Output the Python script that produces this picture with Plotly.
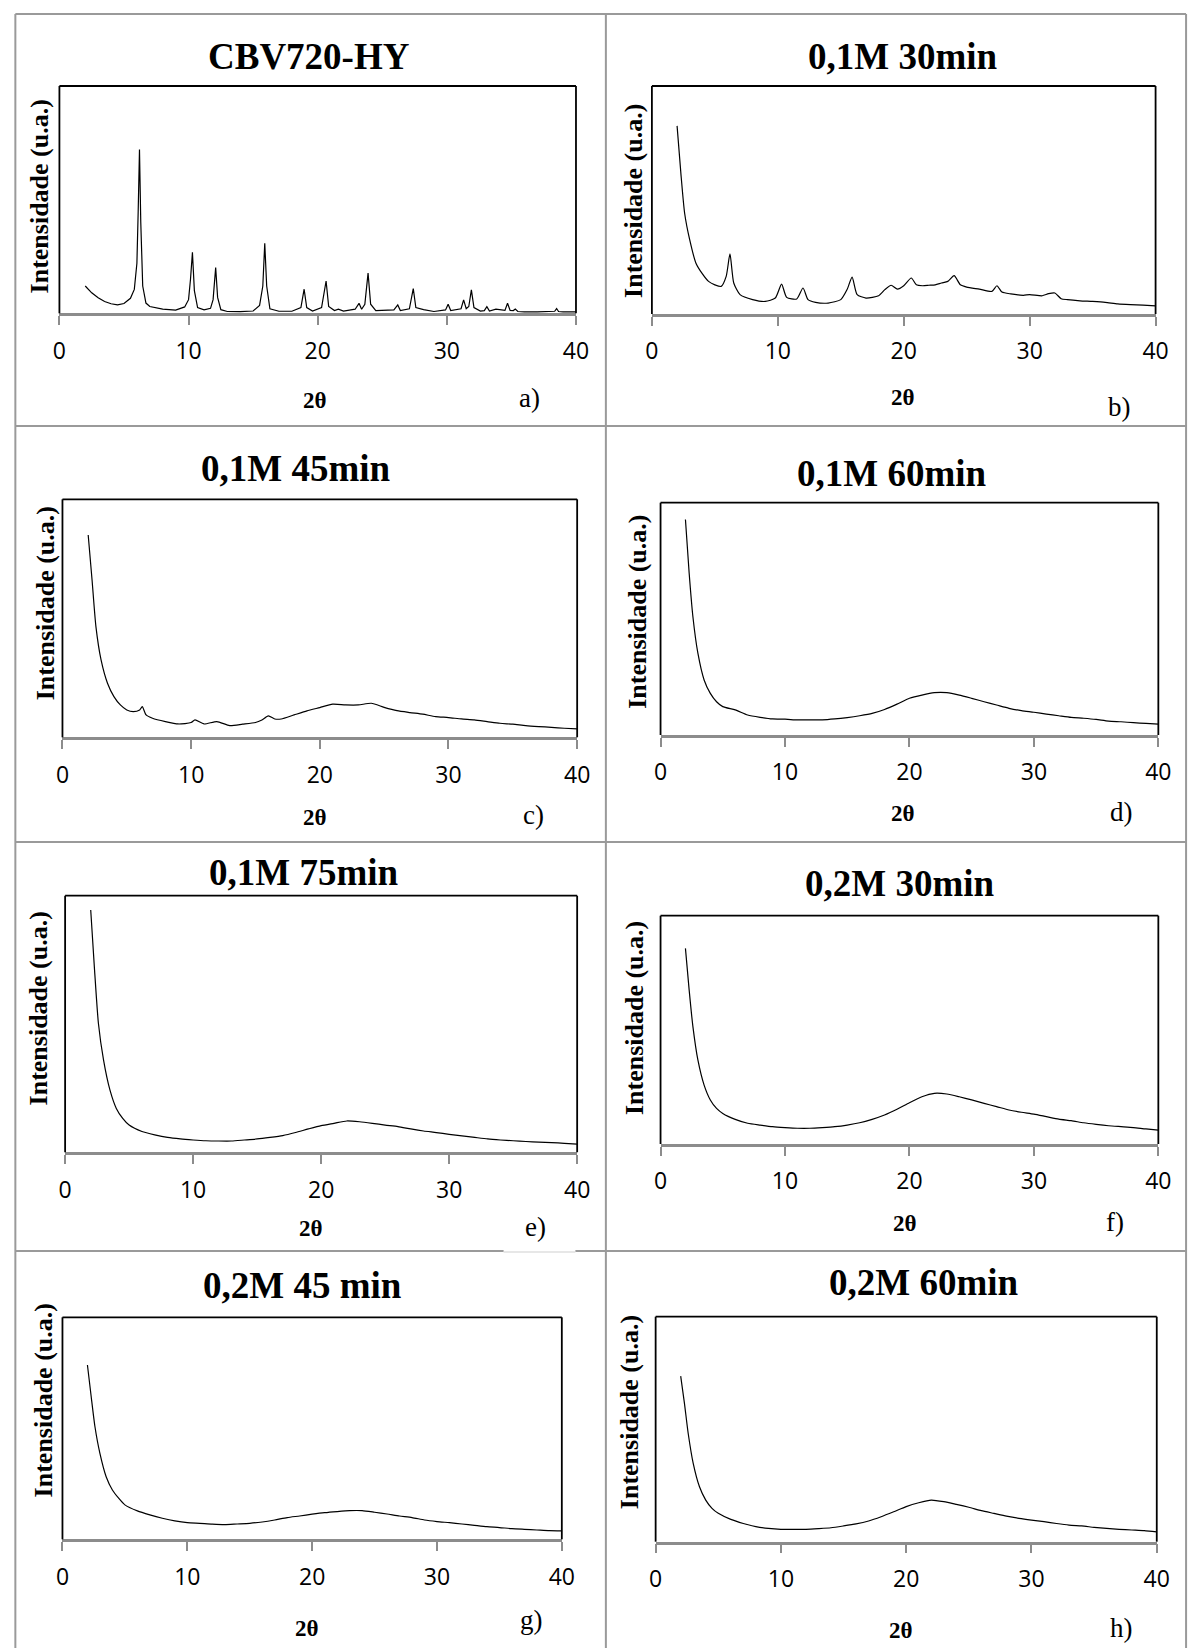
import plotly.graph_objects as go

W, H = 1203, 1648

# ---------------- data (2theta in degrees, intensity in arbitrary units, 0-100) -------------
x_a = [2.0, 2.5, 3.0, 3.5, 4.0, 4.5, 5.0, 5.5, 5.8, 6.0, 6.1, 6.2, 6.3, 6.45, 6.7, 7.0, 8.0, 9.0,
       9.7, 10.0, 10.15, 10.3, 10.45, 10.7, 11.2, 11.7, 11.9, 12.1, 12.25, 12.5, 13.0, 14.0, 15.0,
       15.5, 15.75, 15.9, 16.05, 16.3, 17.0, 18.0, 18.7, 18.95, 19.15, 19.6, 20.3, 20.65, 20.85,
       21.3, 21.6, 22.0, 22.9, 23.2, 23.4, 23.65, 23.9, 24.1, 24.5, 25.3, 25.9, 26.2, 26.4, 27.1,
       27.4, 27.6, 28.2, 29.0, 29.9, 30.1, 30.3, 31.1, 31.3, 31.5, 31.7, 31.9, 32.1, 32.6, 32.9,
       33.1, 33.3, 33.8, 34.5, 34.7, 34.9, 35.15, 35.3, 35.5, 36.0, 37.0, 38.0, 38.35, 38.5, 38.65,
       39.0, 40.0]
y_a = [12.0, 9.0, 6.8, 5.2, 4.2, 3.7, 4.3, 6.6, 10.5, 22.0, 45.0, 72.1, 40.0, 12.0, 4.5, 3.0, 1.8, 1.4,
       2.8, 6.0, 15.0, 26.8, 10.0, 2.5, 1.5, 2.2, 6.0, 20.1, 7.0, 1.6, 0.8, 0.7, 1.0,
       3.5, 12.0, 30.8, 12.0, 2.0, 0.9, 0.9, 2.5, 10.6, 2.5, 1.0, 2.5, 14.2, 3.0,
       1.2, 1.8, 1.0, 1.8, 4.4, 1.8, 4.0, 17.7, 4.0, 1.2, 1.3, 1.5, 3.7, 1.2, 2.0,
       10.9, 2.5, 1.6, 0.8, 1.5, 4.0, 1.2, 2.0, 5.9, 2.0, 3.0, 10.3, 2.5, 1.0, 1.2,
       2.9, 1.0, 1.8, 1.3, 4.4, 1.3, 1.2, 1.9, 0.8, 0.6, 0.6, 0.7, 0.9, 2.1, 0.8,
       0.6, 0.6]

x_b = [2.0, 2.3, 2.6, 3.0, 3.5, 4.0, 4.5, 5.0, 5.5, 5.9, 6.2, 6.5, 7.0, 8.0, 9.0, 9.8, 10.3, 10.7,
       11.5, 12.0, 12.4, 13.0, 14.0, 15.0, 15.5, 15.9, 16.3, 17.0, 18.0, 18.5, 19.0, 19.5, 20.0,
       20.6, 21.0, 21.5, 22.0, 22.5, 23.0, 23.5, 24.0, 24.5, 25.0, 26.0, 27.0, 27.4, 27.8, 28.5,
       29.5, 30.0, 31.0, 31.5, 32.0, 32.5, 33.0, 34.0, 35.0, 36.0, 37.0, 38.0, 39.0, 40.0]
y_b = [82.5, 61.8, 44.2, 32.6, 22.3, 17.7, 14.3, 12.8, 12.1, 16.5, 26.4, 13.6, 8.5, 6.3, 5.5, 7.0, 13.1, 7.3,
       6.6, 11.4, 6.3, 5.1, 4.8, 6.3, 10.7, 16.2, 8.5, 7.0, 8.0, 10.7, 12.6, 10.9, 12.4,
       15.8, 12.8, 12.4, 12.6, 12.8, 13.6, 14.3, 16.8, 12.8, 11.8, 10.9, 9.9, 12.4, 9.6, 8.8,
       8.2, 8.5, 8.0, 8.9, 9.2, 6.7, 6.3, 5.8, 5.5, 5.1, 4.4, 4.1, 3.9, 3.6]

x_c = [2.0, 2.3, 2.6, 3.0, 3.5, 4.0, 4.5, 5.0, 5.5, 6.0, 6.2, 6.5, 7.0, 8.0, 9.0, 10.0, 10.3, 11.0,
       12.0, 13.0, 14.0, 15.0, 15.5, 16.0, 16.5, 17.0, 18.0, 19.0, 20.0, 21.0, 22.0, 23.0, 24.0,
       25.0, 26.0, 27.0, 28.0, 29.0, 30.0, 31.0, 32.0, 33.0, 34.0, 35.0, 36.0, 37.0, 38.0, 39.0, 40.0]
y_c = [85.0, 66.1, 46.5, 32.5, 22.7, 17.1, 13.6, 11.5, 10.8, 11.5, 12.9, 9.4, 8.0, 6.6, 5.6, 6.2, 7.3, 5.6,
       6.6, 4.9, 5.5, 6.2, 7.3, 9.0, 7.7, 7.7, 9.4, 11.1, 12.5, 13.9, 13.6, 13.6, 14.3,
       12.6, 11.2, 10.4, 9.7, 8.7, 8.3, 7.7, 7.3, 6.6, 5.9, 5.5, 4.9, 4.5, 4.2, 3.8, 3.5]

x_d = [2.0, 2.3, 2.6, 3.0, 3.5, 4.0, 4.5, 5.0, 6.0, 7.0, 8.0, 9.0, 10.0, 11.0, 12.0, 13.0, 14.0,
       15.0, 16.0, 17.0, 18.0, 19.0, 20.0, 21.0, 22.0, 23.0, 24.0, 25.0, 26.0, 27.0, 28.0, 29.0,
       30.0, 31.0, 32.0, 33.0, 34.0, 35.0, 36.0, 37.0, 38.0, 39.0, 40.0]
y_d = [92.8, 69.6, 50.9, 35.2, 23.7, 17.9, 14.3, 12.2, 10.8, 8.6, 7.6, 6.9, 6.8, 6.5, 6.5, 6.5, 6.9,
       7.5, 8.3, 9.3, 11.0, 13.3, 15.8, 17.2, 18.2, 18.2, 17.2, 15.8, 14.3, 12.9, 11.5, 10.5,
       9.8, 9.0, 8.3, 7.6, 7.2, 6.7, 6.0, 5.7, 5.3, 5.0, 4.7]

x_e = [2.0, 2.3, 2.6, 3.0, 3.5, 4.0, 4.5, 5.0, 6.0, 7.0, 8.0, 9.0, 10.0, 11.0, 12.0, 13.0, 14.0,
       15.0, 16.0, 17.0, 18.0, 19.0, 20.0, 21.0, 22.0, 23.0, 24.0, 25.0, 26.0, 27.0, 28.0, 29.0,
       30.0, 31.0, 32.0, 33.0, 34.0, 35.0, 36.0, 37.0, 38.0, 39.0, 40.0]
y_e = [94.4, 71.0, 50.3, 36.0, 24.3, 17.1, 13.2, 10.6, 8.1, 6.8, 5.8, 5.2, 4.8, 4.5, 4.4, 4.4, 4.8,
       5.2, 5.8, 6.5, 7.7, 9.1, 10.4, 11.3, 12.2, 11.9, 11.3, 10.6, 10.0, 9.1, 8.3, 7.7,
       7.0, 6.4, 5.8, 5.2, 4.8, 4.5, 4.2, 4.0, 3.8, 3.5, 3.2]

x_f = [2.0, 2.3, 2.6, 3.0, 3.5, 4.0, 4.5, 5.0, 6.0, 7.0, 8.0, 9.0, 10.0, 11.0, 12.0, 13.0, 14.0,
       15.0, 16.0, 17.0, 18.0, 19.0, 20.0, 21.0, 22.0, 23.0, 24.0, 25.0, 26.0, 27.0, 28.0, 29.0,
       30.0, 31.0, 32.0, 33.0, 34.0, 35.0, 36.0, 37.0, 38.0, 39.0, 40.0]
y_f = [85.7, 67.4, 51.4, 36.8, 25.8, 19.3, 15.6, 13.4, 10.8, 9.1, 8.3, 7.6, 7.2, 6.9, 6.9, 7.2, 7.6,
       8.3, 9.3, 10.8, 12.7, 15.2, 18.1, 20.7, 22.2, 21.9, 20.7, 19.3, 17.8, 16.4, 14.9, 13.9,
       13.1, 12.0, 10.9, 10.2, 9.3, 8.6, 8.0, 7.6, 7.2, 6.6, 6.1]

x_g = [2.0, 2.3, 2.6, 3.0, 3.5, 4.0, 4.5, 5.0, 6.0, 7.0, 8.0, 9.0, 10.0, 11.0, 12.0, 13.0, 14.0,
       15.0, 16.0, 17.0, 18.0, 19.0, 20.0, 21.0, 22.0, 23.0, 24.0, 25.0, 26.0, 27.0, 28.0, 29.0,
       30.0, 31.0, 32.0, 33.0, 34.0, 35.0, 36.0, 37.0, 38.0, 39.0, 40.0]
y_g = [78.5, 64.3, 50.8, 38.7, 28.2, 22.2, 18.5, 15.5, 12.8, 11.0, 9.5, 8.3, 7.5, 7.2, 6.8, 6.6, 6.9,
       7.2, 7.8, 8.7, 9.8, 10.5, 11.3, 12.0, 12.5, 12.9, 12.9, 12.2, 11.4, 10.5, 9.8, 8.7,
       8.0, 7.5, 6.9, 6.3, 5.7, 5.3, 4.8, 4.5, 4.2, 3.9, 3.8]

x_h = [2.0, 2.3, 2.6, 3.0, 3.5, 4.0, 4.5, 5.0, 6.0, 7.0, 8.0, 9.0, 10.0, 11.0, 12.0, 13.0, 14.0,
       15.0, 16.0, 17.0, 18.0, 19.0, 20.0, 21.0, 22.0, 23.0, 24.0, 25.0, 26.0, 27.0, 28.0, 29.0,
       30.0, 31.0, 32.0, 33.0, 34.0, 35.0, 36.0, 37.0, 38.0, 39.0, 40.0]
y_h = [73.6, 61.5, 48.1, 34.8, 24.4, 18.5, 14.8, 12.6, 9.9, 8.1, 6.7, 5.9, 5.5, 5.5, 5.5, 5.8, 6.2,
       7.0, 7.9, 9.2, 11.1, 13.3, 15.6, 17.3, 18.5, 17.8, 16.6, 15.3, 13.8, 12.6, 11.4, 10.4,
       9.6, 8.9, 8.1, 7.4, 7.0, 6.4, 5.9, 5.5, 5.2, 4.9, 4.4]

titles = ["CBV720-HY", "0,1M 30min", "0,1M 45min", "0,1M 60min",
          "0,1M 75min", "0,2M 30min", "0,2M 45 min", "0,2M 60min"]
letters = ["a)", "b)", "c)", "d)", "e)", "f)", "g)", "h)"]
tick_vals = [0, 10, 20, 30, 40]
tick_text = ["0", "10", "20", "30", "40"]
y_label = "Intensidade (u.a.)"
x_label = "2θ"

series_x = [x_a, x_b, x_c, x_d, x_e, x_f, x_g, x_h]
series_y = [y_a, y_b, y_c, y_d, y_e, y_f, y_g, y_h]

# ---------------- layout geometry (pixels) ----------------
boxes = [  # left, right, top, bottom
    (53.3, 578.6, 86.0, 313.3),
    (655.8, 1168.0, 86.0, 314.0),
    (56.4, 579.8, 499.3, 737.3),
    (664.6, 1170.8, 502.7, 735.0),
    (59.1, 579.8, 895.7, 1152.3),
    (664.6, 1170.8, 915.7, 1144.0),
    (56.4, 564.2, 1317.3, 1539.3),
    (659.6, 1169.2, 1316.7, 1541.7),
]
title_pos = [(307, 57), (911.5, 57), (294, 468), (900, 473), (302, 873), (908, 883), (300, 1285), (933, 1282)]
ylab_pos = [(33, 196), (636.5, 201), (39, 603), (641.5, 612), (33, 1008), (637.7, 1018), (37, 1400), (632.7, 1412)]
xlab_pos = [(313, 400), (911.5, 398), (313, 818), (911.5, 813), (309, 1228), (913.5, 1223), (305, 1628), (909.6, 1630)]
let_pos = [(531, 398), (1131, 407), (535, 815), (1133, 812), (537, 1227), (1127, 1222), (533, 1620), (1133, 1628)]


def px(x):
    return x / W


def py(y):
    return 1 - y / H


fig = go.Figure()
shapes = []
annotations = []
layout = {}

for i in range(8):
    n = "" if i == 0 else str(i + 1)
    l, r, t, b = boxes[i]
    fig.add_trace(go.Scatter(
        x=series_x[i], y=series_y[i], mode="lines",
        line=dict(color="black", width=1.2, shape="linear" if i == 0 else "spline", smoothing=0.6),
        xaxis="x" + n, yaxis="y" + n, showlegend=False, hoverinfo="skip"))
    layout["xaxis" + n] = dict(
        domain=[px(l), px(r)], range=[0, 40], anchor="y" + n,
        tickvals=tick_vals, ticktext=tick_text, ticks="outside", ticklen=9, tickwidth=2,
        tickcolor="#8c8c8c", showline=True, linecolor="#8c8c8c", linewidth=2.5,
        showgrid=False, zeroline=False, ticklabelstandoff=6,
        tickfont=dict(family="Open Sans", size=23, color="black"), fixedrange=True)
    layout["yaxis" + n] = dict(
        domain=[py(b), py(t)], range=[0, 100], anchor="x" + n,
        showticklabels=False, showgrid=False, zeroline=False, showline=False, ticks="",
        fixedrange=True)
    # plot box (top, left, right borders)
    for (x0, y0, x1, y1) in [(0, 1, 1, 1), (0, 0, 0, 1), (1, 0, 1, 1)]:
        shapes.append(dict(type="line", xref="x" + n + " domain", yref="y" + n + " domain",
                           x0=x0, y0=y0, x1=x1, y1=y1, line=dict(color="black", width=1.8)))
    annotations.append(dict(text="<b>" + titles[i] + "</b>", x=px(title_pos[i][0]), y=py(title_pos[i][1]),
                            xref="paper", yref="paper", xanchor="center", yanchor="middle", showarrow=False,
                            font=dict(family="Liberation Serif", size=37, color="black")))
    annotations.append(dict(text="<b>" + y_label + "</b>", x=px(ylab_pos[i][0]), y=py(ylab_pos[i][1]),
                            xref="paper", yref="paper", xanchor="center", yanchor="middle", showarrow=False,
                            textangle=-90, font=dict(family="Liberation Serif", size=26, color="black")))
    annotations.append(dict(text="<b>" + x_label + "</b>", x=px(xlab_pos[i][0]), y=py(xlab_pos[i][1]),
                            xref="paper", yref="paper", xanchor="center", yanchor="middle", showarrow=False,
                            font=dict(family="Liberation Serif", size=23, color="black")))
    annotations.append(dict(text=letters[i], x=px(let_pos[i][0]), y=py(let_pos[i][1]),
                            xref="paper", yref="paper", xanchor="center", yanchor="middle", showarrow=False,
                            font=dict(family="Liberation Serif", size=27, color="black")))

# table grid
grid_col = "#9a9a9a"
table_lines = [
    (8.5, 14, 1199, 14), (8.5, 14, 8.5, 1648), (1199, 14, 1199, 1648), (609, 14, 609, 1648),
    (8.5, 426, 1199, 426), (8.5, 842, 1199, 842), (8.5, 1251, 505, 1251), (578, 1251, 1199, 1251),
]
for (x0, y0, x1, y1) in table_lines:
    shapes.append(dict(type="line", xref="paper", yref="paper", x0=px(x0), y0=py(y0), x1=px(x1), y1=py(y1),
                       line=dict(color=grid_col, width=2)))
shapes.append(dict(type="line", xref="paper", yref="paper", x0=px(505), y0=py(1252), x1=px(578), y1=py(1252),
                   line=dict(color="#cfcfcf", width=1)))

fig.update_layout(
    width=W, height=H, margin=dict(l=0, r=0, t=0, b=0),
    paper_bgcolor="white", plot_bgcolor="white",
    shapes=shapes, annotations=annotations, **layout)

fig.write_html("out.html")
